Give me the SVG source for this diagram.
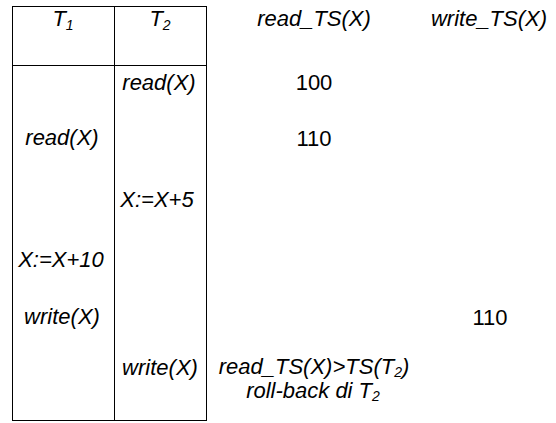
<svg xmlns="http://www.w3.org/2000/svg" width="556" height="423" viewBox="0 0 556 423">
<style>
.t{font-family:"Liberation Sans",Arial,sans-serif;font-size:22px;fill:#000;text-anchor:middle}
.i{font-style:italic}
.s{font-size:14px}
.ln{stroke:#000;stroke-width:1;fill:none}
</style>
<rect x="0" y="0" width="556" height="423" fill="#fff"/>
<g id="table">
<rect class="ln" x="12.5" y="6.5" width="194" height="414"/>
<line class="ln" x1="114.5" y1="6.5" x2="114.5" y2="420.5"/>
<line class="ln" x1="12.5" y1="65.5" x2="206.5" y2="65.5"/>
</g>
<g id="headers">
<text class="t i" x="63" y="26">T<tspan class="s" dy="4">1</tspan></text>
<text class="t i" x="160" y="26">T<tspan class="s" dy="4">2</tspan></text>
<text class="t i" x="314" y="26">read_TS(X)</text>
<text class="t i" x="489" y="26">write_TS(X)</text>
</g>
<g id="t1">
<text class="t i" x="62" y="145">read(X)</text>
<text class="t i" x="61" y="267">X:=X+10</text>
<text class="t i" x="62" y="324">write(X)</text>
</g>
<g id="t2">
<text class="t i" x="159" y="90">read(X)</text>
<text class="t i" x="157" y="207">X:=X+5</text>
<text class="t i" x="160" y="375">write(X)</text>
</g>
<g id="values">
<text class="t" x="314" y="90">100</text>
<text class="t" x="314" y="146">110</text>
<text class="t" x="490" y="325">110</text>
<text class="t i" x="314" y="374">read_TS(X)&gt;TS(T<tspan class="s" dy="3">2</tspan><tspan dy="-3">)</tspan></text>
<text class="t i" x="313" y="398">roll-back di T<tspan class="s" dy="3">2</tspan></text>
</g>
</svg>
